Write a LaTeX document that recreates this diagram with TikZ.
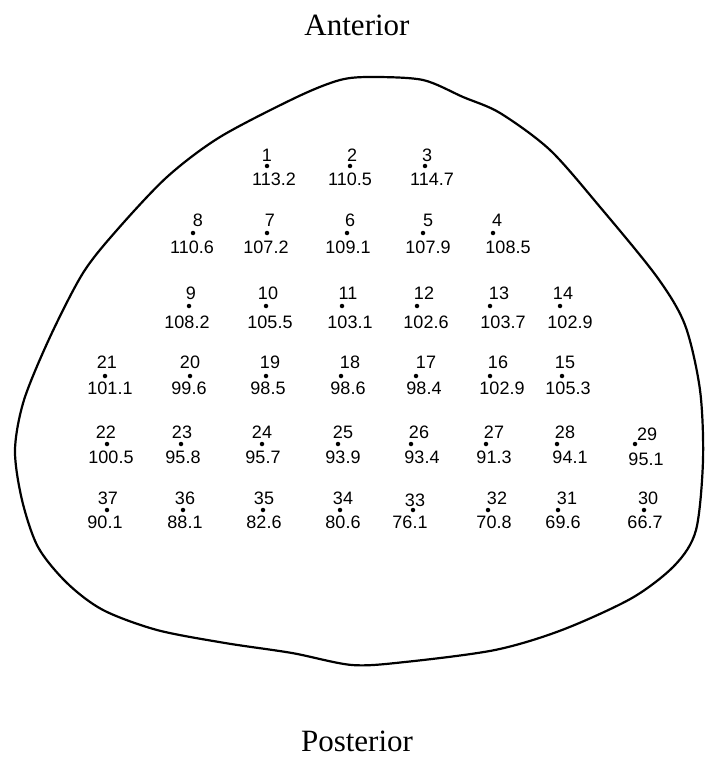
\documentclass[tikz,border=0pt]{standalone}
\usepackage{fontspec}
\setmainfont{Liberation Serif}
\newfontfamily\numfont{Liberation Sans}
\begin{document}
\begin{tikzpicture}[x=1pt,y=-1pt,
  numtxt/.style={inner sep=0pt,font=\numfont\fontsize{18}{18}\selectfont},
  ptdot/.style={circle,fill=black,inner sep=0pt,minimum size=4.5pt},
  heading/.style={inner sep=0pt,font=\fontsize{31}{31}\selectfont}]
\useasboundingbox (0,0) rectangle (705,759);
\node[heading] (ant) at (357,25) {Anterior};
\node[heading] (post) at (357,741) {Posterior};
\draw[line width=2.2pt,line join=round] plot[smooth cycle,tension=0.5] coordinates {
(340,80) (372,77) (423,80) (463,97) (500,113) (550,150) (600,207) (657,277)
(685,325) (700,390) (703,460) (696,530) (675,565) (632,598) (562,630) (495,650)
(405,662) (352,665) (292,653) (225,643) (157,630) (103,610) (67,583) (38,547)
(22,500) (15,450) (24,400) (50,337) (83,273) (117,230) (167,177) (220,137)
(297,97)};
% k / label x / dot x / value / value x / row y (label, dot, value)
\foreach \k/\lx/\dx/\v/\vx/\ly/\dy/\vy in {
 1/267/267/113.2/274/155/166/179,
 2/352/350/110.5/350/155/166/179,
 3/427/425/114.7/432/155/166/179,
 8/198/193/110.6/192/220/233/247,
 7/270/267/107.2/266/220/233/247,
 6/350/347/109.1/348/220/233/247,
 5/428/423/107.9/428/220/233/247,
 4/497/493/108.5/508/220/233/247,
 9/191/189/108.2/187/293/306/322,
 10/268/266/105.5/270/293/306/322,
 11/348/342/103.1/350/293/306/322,
 12/424/417/102.6/426/293/306/322,
 13/499/490/103.7/503/293/306/322,
 14/563/560/102.9/570/293/306/322,
 21/107/105/101.1/110/362/376/388,
 20/190/190/99.6/189/362/376/388,
 19/270/266/98.5/268/362/376/388,
 18/350/341/98.6/348/362/376/388,
 17/426/416/98.4/424/362/376/388,
 16/498/490/102.9/502/362/376/388,
 15/565/562/105.3/568/362/376/388,
 22/106/107/100.5/111/432/444/457,
 23/182/181/95.8/183/432/444/457,
 24/262/262/95.7/263/432/444/457,
 25/343/338/93.9/343/432/444/457,
 26/419/411/93.4/422/432/444/457,
 27/494/486/91.3/494/432/444/457,
 28/565/557/94.1/570/432/444/457,
 29/647/635/95.1/646/434/444/459,
 37/108/107/90.1/105/498/510/522,
 36/185/183/88.1/185/498/510/522,
 35/264/263/82.6/264/498/510/522,
 34/343/340/80.6/343/498/510/522,
 33/415/413/76.1/410/500/510/522,
 32/497/488/70.8/494/498/510/522,
 31/567/558/69.6/563/498/510/522,
 30/648/644/66.7/645/498/510/522}{
  \node[numtxt] (l\k) at (\lx,\ly) {\k};
  \node[ptdot] (d\k) at (\dx,\dy) {};
  \node[numtxt] (v\k) at (\vx,\vy) {\v};
}
\end{tikzpicture}
\end{document}
